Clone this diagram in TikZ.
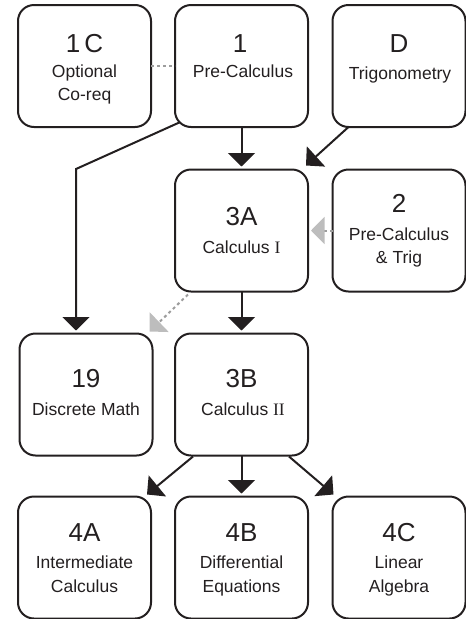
\documentclass[tikz,border=0pt]{standalone}
\usepackage{fontspec}
\setmainfont{Liberation Sans}
\newfontfamily\romanI{Liberation Serif}
\usetikzlibrary{arrows.meta,calc}
\definecolor{ink}{HTML}{231F20}
\definecolor{dotc}{HTML}{9D9D9D}
\definecolor{headc}{HTML}{BDBDBD}
\begin{document}
\begin{tikzpicture}[x=1pt,y=-1pt,
  box/.style={draw=ink,line width=2pt,rounded corners=16pt,minimum width=133pt,minimum height=122pt,inner sep=0pt,outer sep=0pt},
  num/.style={anchor=base,inner sep=0pt,font=\fontsize{26}{30}\selectfont,text=ink},
  sub/.style={anchor=base,inner sep=0pt,font=\fontsize{17.5}{21}\selectfont,text=ink},
  arr/.style={draw=ink,line width=2pt,-{Triangle[width=27pt,length=13.5pt]}},
  opt/.style={draw=dotc,line width=2pt,dash pattern=on 3pt off 3pt},
  optarr/.style={opt,-{Triangle[width=27pt,length=13.5pt,color=headc]}},
]
\useasboundingbox (0,0) rectangle (466,619);

% boxes
\node[box] (b1C) at (84.5,66) {};
\node[box] (b1)  at (241.5,66) {};
\node[box] (bD)  at (399,66) {};
\node[box] (b3A) at (241.5,230.5) {};
\node[box] (b2)  at (399,230.5) {};
\node[box] (b19) at (86,394.5) {};
\node[box] (b3B) at (241.5,394.5) {};
\node[box] (b4A) at (84.5,557.5) {};
\node[box] (b4B) at (241.5,557.5) {};
\node[box] (b4C) at (399,557.5) {};

% texts
\node[num] (t1C) at (84.5,52) {1\kern4pt C};
\node[sub] (s1Ca) at (84.5,77.5) {Optional};
\node[sub] (s1Cb) at (84.5,100) {Co-req};

\node[num] (t1) at (240,52) {1};
\node[sub] (s1a) at (243,77) {Pre-Calculus};

\node[num] (tD) at (399,52) {D};
\node[sub] (sDa) at (400,79) {Trigonometry};

\node[num] (t3A) at (241.5,225) {3A};
\node[sub] (s3Aa) at (241.5,253) {Calculus {\romanI I}};

\node[num] (t2) at (399,212) {2};
\node[sub] (s2a) at (399,240) {Pre-Calculus};
\node[sub] (s2b) at (399,263) {\& Trig};

\node[num] (t19) at (86,387) {19};
\node[sub] (s19a) at (86,415) {Discrete Math};

\node[num] (t3B) at (241.5,387) {3B};
\node[sub] (s3Ba) at (243,415) {Calculus {\romanI II}};

\node[num] (t4A) at (84.5,541) {4A};
\node[sub] (s4Aa) at (84.5,568) {Intermediate};
\node[sub] (s4Ab) at (84.5,592) {Calculus};

\node[num] (t4B) at (241.5,541) {4B};
\node[sub] (s4Ba) at (241.5,568) {Differential};
\node[sub] (s4Bb) at (241.5,592) {Equations};

\node[num] (t4C) at (399,541) {4C};
\node[sub] (s4Ca) at (399,568) {Linear};
\node[sub] (s4Cb) at (399,592) {Algebra};

% connectors
\draw[opt] (b1C.east) -- (b1.west);
\draw[arr,shorten >=3pt] (b1.south) -- (b3A.north);
\draw[arr] ($(bD.south west)+(16,0)$) -- ($(b3A.north east)+(-2,-4)$);
\coordinate (k19) at (76,169);
\draw[arr,shorten >=3pt] ($(b1.south west)+(4.7,-4.7)$) -- (k19) -- (k19 |- b19.north);
\draw[optarr,shorten >=3pt] (b2.west) -- (b3A.east);
\draw[optarr] ($(b3A.south west)+(13,3)$) -- ($(b19.north east)+(-3,-2)$);
\draw[arr,shorten >=3pt] (b3A.south) -- (b3B.north);
\draw[arr] ($(b3B.south west)+(18,1)$) -- ($(b4A.north east)+(-4,-2)$);
\draw[arr,shorten >=3pt] (b3B.south) -- (b4B.north);
\draw[arr] ($(b3B.south east)+(-19,1)$) -- ($(b4C.north west)+(1,-2)$);
\end{tikzpicture}
\end{document}
